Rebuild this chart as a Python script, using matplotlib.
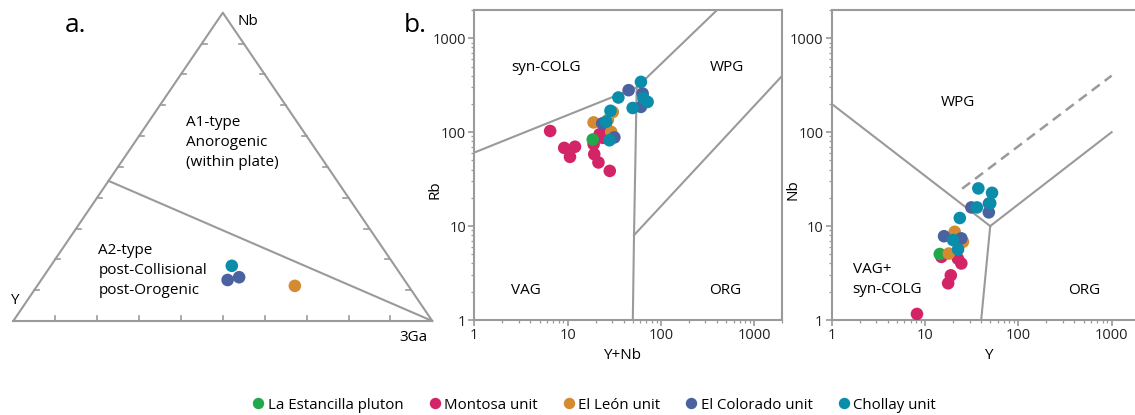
import matplotlib
matplotlib.use("Agg")
import matplotlib.pyplot as plt
import numpy as np
from matplotlib.lines import Line2D

plt.rcParams["font.family"] = ["Open Sans", "DejaVu Sans"]

GRAY = "#9a9a9a"
colors = {
    "La Estancilla pluton": "#22a84a",
    "Montosa unit": "#d42468",
    "El León unit": "#d48a30",
    "El Colorado unit": "#4a62a0",
    "Chollay unit": "#0a8cab",
}
units = list(colors.keys())

# ternary Nb - Y - 3Ga (fractions)
tern_unit = ["Chollay unit", "El Colorado unit", "El Colorado unit", "El León unit"]
tern_nb = [0.179, 0.133, 0.142, 0.114]
tern_y = [0.389, 0.422, 0.390, 0.271]
tern_ga = [0.432, 0.445, 0.468, 0.615]

# Rb vs Y+Nb
b_unit = (["Montosa unit"] * 11 + ["La Estancilla pluton"]
          + ["El León unit"] * 4 + ["El Colorado unit"] * 5 + ["Chollay unit"] * 8)
b_ynb = [6.5, 9.2, 12.0, 10.6, 19.3, 21.4, 28.3, 19.0, 23.8, 22.0, 26.0,
         18.6,
         19.0, 30.5, 29.3, 27.0,
         23.5, 31.7, 45.1, 63.7, 61.1,
         61.1, 35.0, 28.8, 25.9, 28.1, 49.8, 72.0, 65.0]
b_rb = [103, 68, 70, 54.6, 58.3, 47.6, 38.7, 74.5, 87, 95, 110,
        83.6,
        127, 164, 100.7, 135,
        124, 88, 280, 258, 186,
        343, 234, 169, 129, 82, 181, 210, 230]

# Nb vs Y
c_unit = (["Montosa unit"] * 6 + ["La Estancilla pluton"]
          + ["El León unit"] * 3 + ["El Colorado unit"] * 5 + ["Chollay unit"] * 7)
c_y = [8.2, 17.7, 18.9, 24.5, 15.0, 22.5,
       14.4,
       18.0, 20.8, 25.5,
       16.0, 24.5, 31.4, 48.5, 48.3,
       23.6, 37.3, 52.3, 36.0, 20.0, 22.6, 50.0]
c_nb = [1.16, 2.46, 2.99, 4.0, 4.7, 4.5,
        5.04,
        5.1, 8.7, 6.8,
        7.8, 7.4, 15.8, 17.4, 14.0,
        12.2, 25.2, 22.6, 15.8, 7.1, 5.65, 17.5]

# Pearce (1984) boundaries
b_lines = [
    ([1, 55], [60.7, 300]),
    ([55, 400], [300, 2000]),
    ([55, 51.5, 50], [300, 8, 1]),
    ([51.5, 2000], [8, 400]),
]
c_lines = [
    ([1, 50], [200, 10]),
    ([50, 1000], [10, 100]),
    ([50, 40], [10, 1]),
]
c_dash = ([25, 1000], [25, 400])

MS = 82
FS = 11

fig = plt.figure(figsize=(11.35, 4.15), dpi=100)


def tern_xy(nb, y, ga):
    nb, y, ga = np.asarray(nb), np.asarray(y), np.asarray(ga)
    s = nb + y + ga
    return (ga + 0.5 * nb) / s, nb / s


# ---- panel a: ternary
axa = fig.add_axes([13.3 / 1135, 1 - 321 / 415, 419 / 1135, 308.3 / 415])
axa.set_xlim(0, 1)
axa.set_ylim(0, 1)
axa.axis("off")
axa.plot([0, 1, 0.5, 0], [0, 0, 1, 0], color=GRAY, lw=1.5, clip_on=False)
nb_cut = 1 / 2.2
lx, ly = tern_xy(nb_cut, 1 - nb_cut, 0)
axa.plot([lx, 1], [ly, 0], color=GRAY, lw=1.5, clip_on=False)
tl = 0.012
for f in np.arange(0.1, 0.95, 0.1):
    axa.plot([f, f], [0, tl * 1.3], color=GRAY, lw=1.2)
    axa.plot([0.5 * f, 0.5 * f + tl], [f, f], color=GRAY, lw=1.2)
    axa.plot([1 - 0.5 * f, 1 - 0.5 * f - tl], [f, f], color=GRAY, lw=1.2)
tx, ty = tern_xy(tern_nb, tern_y, tern_ga)
axa.scatter(tx, ty, s=MS, c=[colors[u] for u in tern_unit], zorder=3,
            linewidths=0, clip_on=False)
axa.text(0.56, 0.971, "Nb", fontsize=FS, va="center", ha="center")
axa.text(0.003, 0.065, "Y", fontsize=FS, va="center", ha="center")
axa.text(0.955, -0.052, "3Ga", fontsize=FS, va="center", ha="center")
axa.text(0.412, 0.578, "A1-type\nAnorogenic\n(within plate)", fontsize=FS,
         va="center", ha="left", linespacing=1.45)
axa.text(0.203, 0.163, "A2-type\npost-Collisional\npost-Orogenic", fontsize=FS,
         va="center", ha="left", linespacing=1.45)
fig.text(75 / 1135, 1 - 25 / 415, "a.", fontsize=19, va="center", ha="center")
fig.text(415 / 1135, 1 - 25 / 415, "b.", fontsize=19, va="center", ha="center")


def style_log(ax):
    ax.set_xscale("log")
    ax.set_yscale("log")
    ax.set_xlim(1, 2000)
    ax.set_ylim(1, 2000)
    for sp in ax.spines.values():
        sp.set_color(GRAY)
        sp.set_linewidth(1.5)
    ax.tick_params(which="both", colors=GRAY, labelcolor="#222222",
                   labelsize=10.5, direction="out")
    ax.tick_params(which="major", length=4, width=1.2, pad=2)
    ax.tick_params(which="minor", length=2.5, width=0.9)
    ax.set_xticks([1, 10, 100, 1000])
    ax.set_xticklabels(["1", "10", "100", "1000"])
    ax.set_yticks([1, 10, 100, 1000])
    ax.set_yticklabels(["1", "10", "100", "1000"])


# ---- panel b
axb = fig.add_axes([474.3 / 1135, 1 - 320 / 415, 308 / 1135, 310 / 415])
style_log(axb)
for xs, ys in b_lines:
    axb.plot(xs, ys, color=GRAY, lw=1.5)
axb.scatter(b_ynb, b_rb, s=MS, c=[colors[u] for u in b_unit], zorder=3,
            linewidths=0)
axb.set_xlabel("Y+Nb", fontsize=FS)
axb.set_ylabel("Rb", fontsize=FS)
axb.xaxis.set_label_coords(0.48, -0.09)
axb.yaxis.set_label_coords(-0.102, 0.42)
for t, x, y in [("syn-COLG", 5.8, 483), ("WPG", 506, 483),
                ("VAG", 3.56, 2.08), ("ORG", 494, 2.08)]:
    axb.text(x, y, t, fontsize=FS, ha="center", va="center")

# ---- panel c
axc = fig.add_axes([831.7 / 1135, 1 - 320 / 415, 308 / 1135, 310 / 415])
style_log(axc)
for xs, ys in c_lines:
    axc.plot(xs, ys, color=GRAY, lw=1.5)
axc.plot(c_dash[0], c_dash[1], color=GRAY, lw=1.8, ls=(0, (4, 2.5)))
axc.scatter(c_y, c_nb, s=MS, c=[colors[u] for u in c_unit], zorder=3,
            linewidths=0)
axc.set_xlabel("Y", fontsize=FS)
axc.set_ylabel("Nb", fontsize=FS)
axc.xaxis.set_label_coords(0.507, -0.09)
axc.yaxis.set_label_coords(-0.1006, 0.42)
axc.text(22.3, 207, "WPG", fontsize=FS, ha="center", va="center")
axc.text(504, 2.08, "ORG", fontsize=FS, ha="center", va="center")
axc.text(1.68, 2.71, "VAG+\nsyn-COLG", fontsize=FS, ha="left", va="center",
         linespacing=1.4)

# ---- legend
handles = [Line2D([], [], ls="none", marker="o", ms=8.2, mfc=colors[u],
                  mec="none", label=u) for u in units]
fig.legend(handles=handles, loc="center", bbox_to_anchor=(0.523, 1 - 405 / 415),
           ncol=5, frameon=False, fontsize=10.8, handletextpad=0.15,
           columnspacing=1.55, handlelength=1.0)

fig.savefig("out.png", dpi=100)
